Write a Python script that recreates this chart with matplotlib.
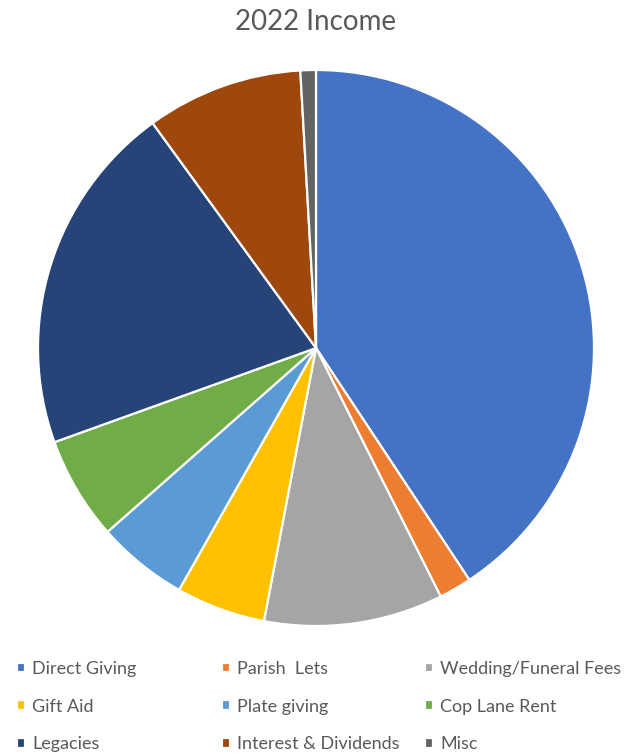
import matplotlib.pyplot as plt

categories = ['Direct Giving', 'Parish  Lets', 'Wedding/Funeral Fees',
              'Gift Aid', 'Plate giving', 'Cop Lane Rent',
              'Legacies', 'Interest & Dividends', 'Misc']
values = [40.7, 1.9, 10.4, 5.2, 5.3, 6.0, 20.5, 9.1, 0.9]
colors = ['#4472C4', '#ED7D31', '#A5A5A5', '#FFC000', '#5B9BD5',
          '#70AD47', '#264478', '#9E480E', '#636363']

plt.rcParams['font.family'] = ['Lato', 'DejaVu Sans']
text_color = '#595959'

fig = plt.figure(figsize=(6.29, 7.55), dpi=100)

# pie area: left 38px, top 70px, diameter 556px
ax = fig.add_axes([38 / 629, 129 / 755, 556 / 629, 556 / 755])
wedges, _ = ax.pie(values, colors=colors, startangle=90, counterclock=False,
                   radius=1, wedgeprops=dict(edgecolor='white', linewidth=1.6))
ax.set_xlim(-1, 1)
ax.set_ylim(-1, 1)
ax.set_aspect('equal')
ax.axis('off')

fig.text(316 / 629, 1 - 22 / 755, '2022 Income', ha='center', va='center',
         fontsize=20, color=text_color)

# legend: three columns, row-major order like Excel
col_x = [17, 222, 425]
for c in range(3):
    idx = [c, c + 3, c + 6]
    fig.legend([wedges[i] for i in idx], [categories[i] for i in idx],
               loc='upper left', bbox_to_anchor=(col_x[c] / 629, 1 - 661 / 755),
               frameon=False, fontsize=13, labelcolor=text_color,
               handlelength=0.45, handleheight=0.45, handletextpad=0.4,
               labelspacing=1.2, borderpad=0, borderaxespad=0)

fig.savefig('out.png', dpi=100, facecolor='white')
